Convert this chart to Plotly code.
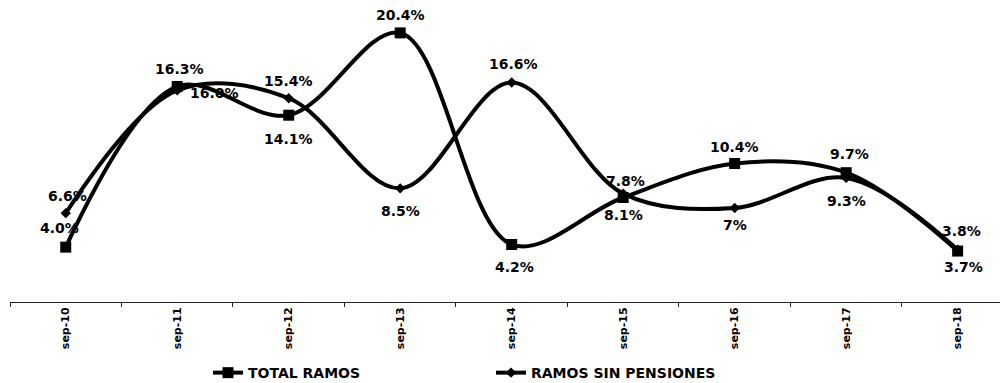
import plotly.graph_objects as go

categories = ["sep-10", "sep-11", "sep-12", "sep-13", "sep-14", "sep-15", "sep-16", "sep-17", "sep-18"]
total_ramos = [4.0, 16.3, 14.1, 20.4, 4.2, 7.8, 10.4, 9.7, 3.7]
total_labels = ["4.0%", "16.3%", "14.1%", "20.4%", "4.2%", "7.8%", "10.4%", "9.7%", "3.7%"]
sin_pensiones = [6.6, 16.0, 15.4, 8.5, 16.6, 8.1, 7.0, 9.3, 3.8]
sin_labels = ["6.6%", "16.0%", "15.4%", "8.5%", "16.6%", "8.1%", "7%", "9.3%", "3.8%"]

# label offsets (px)
total_dx = [-6, 2, 0, 0, 3, 2, 0, 3, 6]
total_dy = [19, 17, -24, 18, -22, 17, 17, 19, -16]
sin_dx = [2, 37, 0, 0, 2, 0, 0, 0, 4]
sin_dy = [17, -3, 17, -23, 19, -21, -17, -23, 19]

FONT = "DejaVu Sans"

fig = go.Figure()
fig.add_trace(go.Scatter(
    x=categories, y=total_ramos, name="TOTAL RAMOS",
    mode="lines+markers",
    line=dict(color="black", width=4, shape="spline", smoothing=1.0),
    marker=dict(symbol="square", size=11, color="black"),
))
fig.add_trace(go.Scatter(
    x=categories, y=sin_pensiones, name="RAMOS SIN PENSIONES",
    mode="lines+markers",
    line=dict(color="black", width=4, shape="spline", smoothing=1.0),
    marker=dict(symbol="diamond", size=8, color="black"),
))

annotations = []
for xs, ys, labs, dxs, dys in [
    (categories, total_ramos, total_labels, total_dx, total_dy),
    (categories, sin_pensiones, sin_labels, sin_dx, sin_dy),
]:
    for c, v, t, dx, dy in zip(xs, ys, labs, dxs, dys):
        annotations.append(dict(
            x=c, y=v, xref="x", yref="y", text=t, showarrow=False,
            xshift=dx, yshift=dy,
            font=dict(family=FONT, size=14, color="black", weight="bold"),
        ))

fig.update_layout(
    width=1000, height=383,
    margin=dict(l=10, r=0, t=12, b=81, autoexpand=False),
    paper_bgcolor="white", plot_bgcolor="white",
    showlegend=True,
    legend=dict(
        orientation="h", x=0.2, xanchor="left", y=-0.245, yanchor="middle",
        font=dict(family=FONT, size=14, color="black", weight="bold"),
        entrywidth=238, entrywidthmode="pixels",
        bgcolor="rgba(0,0,0,0)",
        itemwidth=30,
    ),
    annotations=annotations,
    xaxis=dict(
        type="category", range=[-0.5, 8.38], automargin=False,
        showline=True, linecolor="#222", linewidth=1,
        showgrid=False, zeroline=False,
        ticks="outside", ticklen=4, tickcolor="#222", tickson="boundaries",
        tickangle=-90,
        tickfont=dict(family=FONT, size=11, color="black", weight="bold"),
    ),
    yaxis=dict(
        range=[-0.2, 22], visible=False, showgrid=False, zeroline=False,
        automargin=False,
    ),
)

fig.write_html(
    "out.html",
    config={"displayModeBar": False},
    post_script="document.body.style.margin='0';document.body.style.overflow='hidden';",
)
